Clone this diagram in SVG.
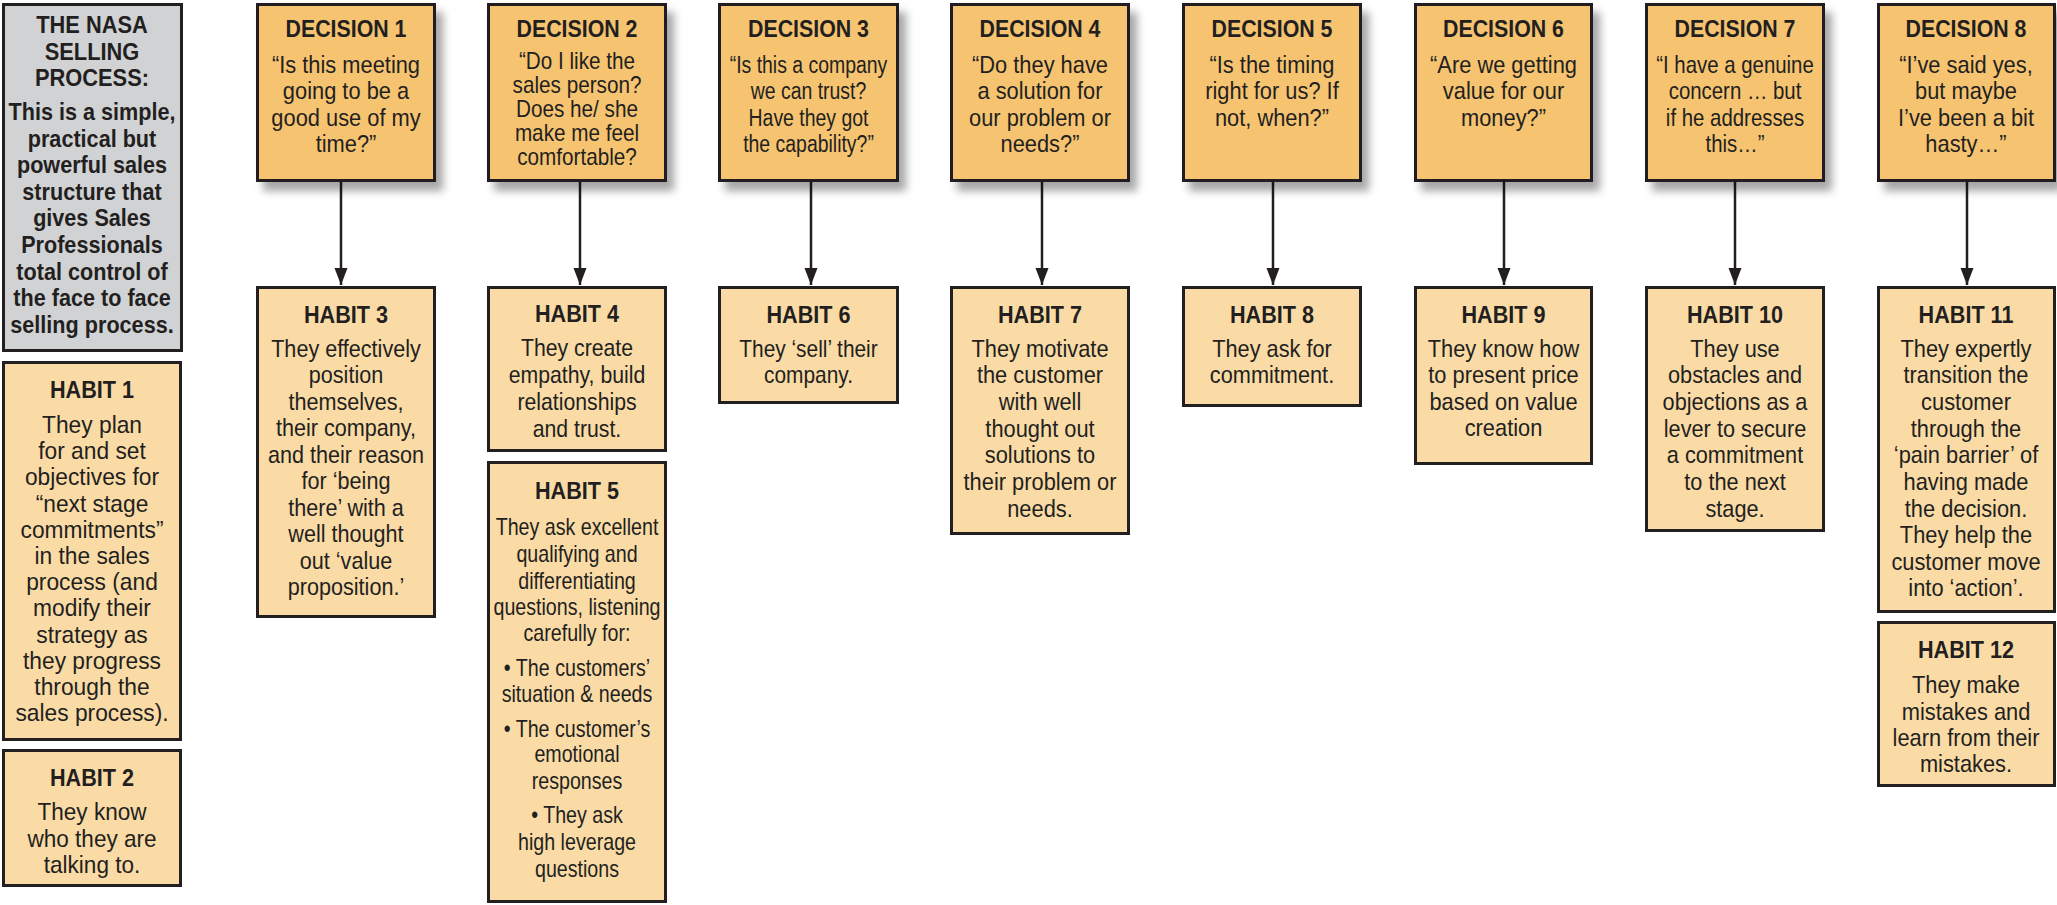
<svg xmlns="http://www.w3.org/2000/svg" width="2057" height="905" viewBox="0 0 2057 905">
<style>
.dec{fill:#F6C470;stroke:#231F20;stroke-width:3}
.hab{fill:#FADBA6;stroke:#231F20;stroke-width:3}
.gray{fill:#D1D2D4;stroke:#231F20;stroke-width:3}
text{font-family:"Liberation Sans",Arial,Helvetica,sans-serif;fill:#231F20;text-anchor:middle}
.h{font-weight:bold;font-size:24px}
.t{font-size:24px}
.s{font-size:23px}
.gb{font-weight:bold;font-size:23px}
.conn line{stroke:#231F20;stroke-width:2.5;marker-end:url(#ah)}
</style>
<defs>
<filter id="sh" x="-10%" y="-10%" width="130%" height="130%">
<feDropShadow dx="7" dy="9" stdDeviation="4" flood-color="#000" flood-opacity="0.35"/>
</filter>
<marker id="ah" markerUnits="userSpaceOnUse" markerWidth="18" markerHeight="14" refX="17" refY="6.5" orient="auto">
<path d="M0,0 L17,6.5 L0,13 z" fill="#231F20"/>
</marker>
</defs>
<rect width="2057" height="905" fill="#fff"/>

<g id="connectors" class="conn">
<line x1="341" y1="182" x2="341" y2="285"/>
<line x1="580" y1="182" x2="580" y2="285"/>
<line x1="811" y1="182" x2="811" y2="285"/>
<line x1="1042" y1="182" x2="1042" y2="285"/>
<line x1="1273" y1="182" x2="1273" y2="285"/>
<line x1="1504" y1="182" x2="1504" y2="285"/>
<line x1="1735" y1="182" x2="1735" y2="285"/>
<line x1="1967" y1="182" x2="1967" y2="285"/>
</g>

<g id="intro">
<rect class="gray" x="3.5" y="4.5" width="178" height="346"/>
<g transform="translate(92 0) scale(0.91 1)">
<text class="h" y="33">THE NASA</text>
<text class="h" y="60">SELLING</text>
<text class="h" y="86">PROCESS:</text>
</g>
<g transform="translate(92 0) scale(0.94 1)">
<text class="gb" y="120">This is a simple,</text>
<text class="gb" y="147">practical but</text>
<text class="gb" y="173">powerful sales</text>
<text class="gb" y="200">structure that</text>
<text class="gb" y="226">gives Sales</text>
<text class="gb" y="253">Professionals</text>
<text class="gb" y="280">total control of</text>
<text class="gb" y="306">the face to face</text>
<text class="gb" y="333">selling process.</text>
</g>
</g>

<g id="habit1">
<rect class="hab" x="3.5" y="362.5" width="177" height="377"/>
<text class="h" transform="translate(92 0) scale(0.9 1)" y="398">HABIT 1</text>
<g transform="translate(92 0) scale(0.95 1)">
<text class="t" y="433">They plan</text>
<text class="t" y="459">for and set</text>
<text class="t" y="485">objectives for</text>
<text class="t" y="512">“next stage</text>
<text class="t" y="538">commitments”</text>
<text class="t" y="564">in the sales</text>
<text class="t" y="590">process (and</text>
<text class="t" y="616">modify their</text>
<text class="t" y="643">strategy as</text>
<text class="t" y="669">they progress</text>
<text class="t" y="695">through the</text>
<text class="t" y="721">sales process).</text>
</g>
</g>

<g id="habit2">
<rect class="hab" x="3.5" y="750.5" width="177" height="135"/>
<text class="h" transform="translate(92 0) scale(0.9 1)" y="786">HABIT 2</text>
<g transform="translate(92 0) scale(0.94 1)">
<text class="t" y="820">They know</text>
<text class="t" y="847">who they are</text>
<text class="t" y="873">talking to.</text>
</g>
</g>

<g id="decision1">
<rect class="dec" filter="url(#sh)" x="257.5" y="4.5" width="177" height="176"/>
<text class="h" transform="translate(346 0) scale(0.89 1)" y="37">DECISION 1</text>
<g transform="translate(346 0) scale(0.91 1)">
<text class="t" y="73">“Is this meeting</text>
<text class="t" y="99">going to be a</text>
<text class="t" y="126">good use of my</text>
<text class="t" y="152">time?”</text>
</g>
</g>

<g id="decision2">
<rect class="dec" filter="url(#sh)" x="488.5" y="4.5" width="177" height="176"/>
<text class="h" transform="translate(577 0) scale(0.89 1)" y="37">DECISION 2</text>
<g transform="translate(577 0) scale(0.9 1)">
<text class="s" y="69">“Do I like the</text>
<text class="s" y="93">sales person?</text>
<text class="s" y="117">Does he/ she</text>
<text class="s" y="141">make me feel</text>
<text class="s" y="165">comfortable?</text>
</g>
</g>

<g id="decision3">
<rect class="dec" filter="url(#sh)" x="719.5" y="4.5" width="178" height="176"/>
<text class="h" transform="translate(808.5 0) scale(0.89 1)" y="37">DECISION 3</text>
<g transform="translate(808.5 0) scale(0.81 1)">
<text class="t" y="73">“Is this a company</text>
<text class="t" y="99">we can trust?</text>
<text class="t" y="126">Have they got</text>
<text class="t" y="152">the capability?”</text>
</g>
</g>

<g id="decision4">
<rect class="dec" filter="url(#sh)" x="951.5" y="4.5" width="177" height="176"/>
<text class="h" transform="translate(1040 0) scale(0.89 1)" y="37">DECISION 4</text>
<g transform="translate(1040 0) scale(0.91 1)">
<text class="t" y="73">“Do they have</text>
<text class="t" y="99">a solution for</text>
<text class="t" y="126">our problem or</text>
<text class="t" y="152">needs?”</text>
</g>
</g>

<g id="decision5">
<rect class="dec" filter="url(#sh)" x="1183.5" y="4.5" width="177" height="176"/>
<text class="h" transform="translate(1272 0) scale(0.89 1)" y="37">DECISION 5</text>
<g transform="translate(1272 0) scale(0.91 1)">
<text class="t" y="73">“Is the timing</text>
<text class="t" y="99">right for us? If</text>
<text class="t" y="126">not, when?”</text>
</g>
</g>

<g id="decision6">
<rect class="dec" filter="url(#sh)" x="1415.5" y="4.5" width="176" height="176"/>
<text class="h" transform="translate(1503.5 0) scale(0.89 1)" y="37">DECISION 6</text>
<g transform="translate(1503.5 0) scale(0.91 1)">
<text class="t" y="73">“Are we getting</text>
<text class="t" y="99">value for our</text>
<text class="t" y="126">money?”</text>
</g>
</g>

<g id="decision7">
<rect class="dec" filter="url(#sh)" x="1646.5" y="4.5" width="177" height="176"/>
<text class="h" transform="translate(1735 0) scale(0.89 1)" y="37">DECISION 7</text>
<g transform="translate(1735 0) scale(0.85 1)">
<text class="t" y="73">“I have a genuine</text>
<text class="t" y="99">concern … but</text>
<text class="t" y="126">if he addresses</text>
<text class="t" y="152">this…”</text>
</g>
</g>

<g id="decision8">
<rect class="dec" filter="url(#sh)" x="1878.5" y="4.5" width="176" height="176"/>
<text class="h" transform="translate(1966 0) scale(0.89 1)" y="37">DECISION 8</text>
<g transform="translate(1966 0) scale(0.91 1)">
<text class="t" y="73">“I’ve said yes,</text>
<text class="t" y="99">but maybe</text>
<text class="t" y="126">I’ve been a bit</text>
<text class="t" y="152">hasty…”</text>
</g>
</g>

<g id="habit3">
<rect class="hab" x="257.5" y="287.5" width="177" height="329"/>
<text class="h" transform="translate(346 0) scale(0.9 1)" y="323">HABIT 3</text>
<g transform="translate(346 0) scale(0.9 1)">
<text class="t" y="357">They effectively</text>
<text class="t" y="383.5">position</text>
<text class="t" y="410">themselves,</text>
<text class="t" y="436.5">their company,</text>
<text class="t" y="463">and their reason</text>
<text class="t" y="489.5">for ‘being</text>
<text class="t" y="516">there’ with a</text>
<text class="t" y="542.5">well thought</text>
<text class="t" y="569">out ‘value</text>
<text class="t" y="595.5">proposition.’</text>
</g>
</g>

<g id="habit4">
<rect class="hab" x="488.5" y="287.5" width="177" height="163"/>
<text class="h" transform="translate(577 0) scale(0.9 1)" y="322">HABIT 4</text>
<g transform="translate(577 0) scale(0.885 1)">
<text class="t" y="356">They create</text>
<text class="t" y="383">empathy, build</text>
<text class="t" y="410">relationships</text>
<text class="t" y="437">and trust.</text>
</g>
</g>

<g id="habit5">
<rect class="hab" x="488.5" y="462.5" width="177" height="439"/>
<text class="h" transform="translate(577 0) scale(0.9 1)" y="499">HABIT 5</text>
<g transform="translate(577 0) scale(0.855 1)">
<text class="s" y="535">They ask excellent</text>
<text class="s" y="562">qualifying and</text>
<text class="s" y="589">differentiating</text>
<text class="s" y="615">questions, listening</text>
<text class="s" y="641">carefully for:</text>
<text class="s" y="676">• The customers’</text>
<text class="s" y="702">situation &amp; needs</text>
<text class="s" y="737">• The customer’s</text>
<text class="s" y="762">emotional</text>
<text class="s" y="789">responses</text>
<text class="s" y="823">• They ask</text>
<text class="s" y="850">high leverage</text>
<text class="s" y="877">questions</text>
</g>
</g>

<g id="habit6">
<rect class="hab" x="719.5" y="287.5" width="178" height="115"/>
<text class="h" transform="translate(808.5 0) scale(0.9 1)" y="323">HABIT 6</text>
<g transform="translate(808.5 0) scale(0.87 1)">
<text class="t" y="357">They ‘sell’ their</text>
<text class="t" y="383">company.</text>
</g>
</g>

<g id="habit7">
<rect class="hab" x="951.5" y="287.5" width="177" height="246"/>
<text class="h" transform="translate(1040 0) scale(0.9 1)" y="323">HABIT 7</text>
<g transform="translate(1040 0) scale(0.91 1)">
<text class="t" y="357">They motivate</text>
<text class="t" y="383.5">the customer</text>
<text class="t" y="410">with well</text>
<text class="t" y="437">thought out</text>
<text class="t" y="463">solutions to</text>
<text class="t" y="490">their problem or</text>
<text class="t" y="517">needs.</text>
</g>
</g>

<g id="habit8">
<rect class="hab" x="1183.5" y="287.5" width="177" height="118"/>
<text class="h" transform="translate(1272 0) scale(0.9 1)" y="323">HABIT 8</text>
<g transform="translate(1272 0) scale(0.906 1)">
<text class="t" y="357">They ask for</text>
<text class="t" y="383">commitment.</text>
</g>
</g>

<g id="habit9">
<rect class="hab" x="1415.5" y="287.5" width="176" height="176"/>
<text class="h" transform="translate(1503.5 0) scale(0.9 1)" y="323">HABIT 9</text>
<g transform="translate(1503.5 0) scale(0.91 1)">
<text class="t" y="357">They know how</text>
<text class="t" y="383">to present price</text>
<text class="t" y="410">based on value</text>
<text class="t" y="436">creation</text>
</g>
</g>

<g id="habit10">
<rect class="hab" x="1646.5" y="287.5" width="177" height="243"/>
<text class="h" transform="translate(1735 0) scale(0.9 1)" y="323">HABIT 10</text>
<g transform="translate(1735 0) scale(0.906 1)">
<text class="t" y="357">They use</text>
<text class="t" y="383.5">obstacles and</text>
<text class="t" y="410">objections as a</text>
<text class="t" y="437">lever to secure</text>
<text class="t" y="463">a commitment</text>
<text class="t" y="490">to the next</text>
<text class="t" y="517">stage.</text>
</g>
</g>

<g id="habit11">
<rect class="hab" x="1878.5" y="287.5" width="176" height="324"/>
<text class="h" transform="translate(1966 0) scale(0.9 1)" y="323">HABIT 11</text>
<g transform="translate(1966 0) scale(0.91 1)">
<text class="t" y="357">They expertly</text>
<text class="t" y="383.5">transition the</text>
<text class="t" y="410">customer</text>
<text class="t" y="437">through the</text>
<text class="t" y="463.5">‘pain barrier’ of</text>
<text class="t" y="490">having made</text>
<text class="t" y="517">the decision.</text>
<text class="t" y="543.5">They help the</text>
<text class="t" y="570">customer move</text>
<text class="t" y="596">into ‘action’.</text>
</g>
</g>

<g id="habit12">
<rect class="hab" x="1878.5" y="622.5" width="176" height="163"/>
<text class="h" transform="translate(1966 0) scale(0.9 1)" y="658">HABIT 12</text>
<g transform="translate(1966 0) scale(0.91 1)">
<text class="t" y="693">They make</text>
<text class="t" y="720">mistakes and</text>
<text class="t" y="746">learn from their</text>
<text class="t" y="772">mistakes.</text>
</g>
</g>
</svg>
